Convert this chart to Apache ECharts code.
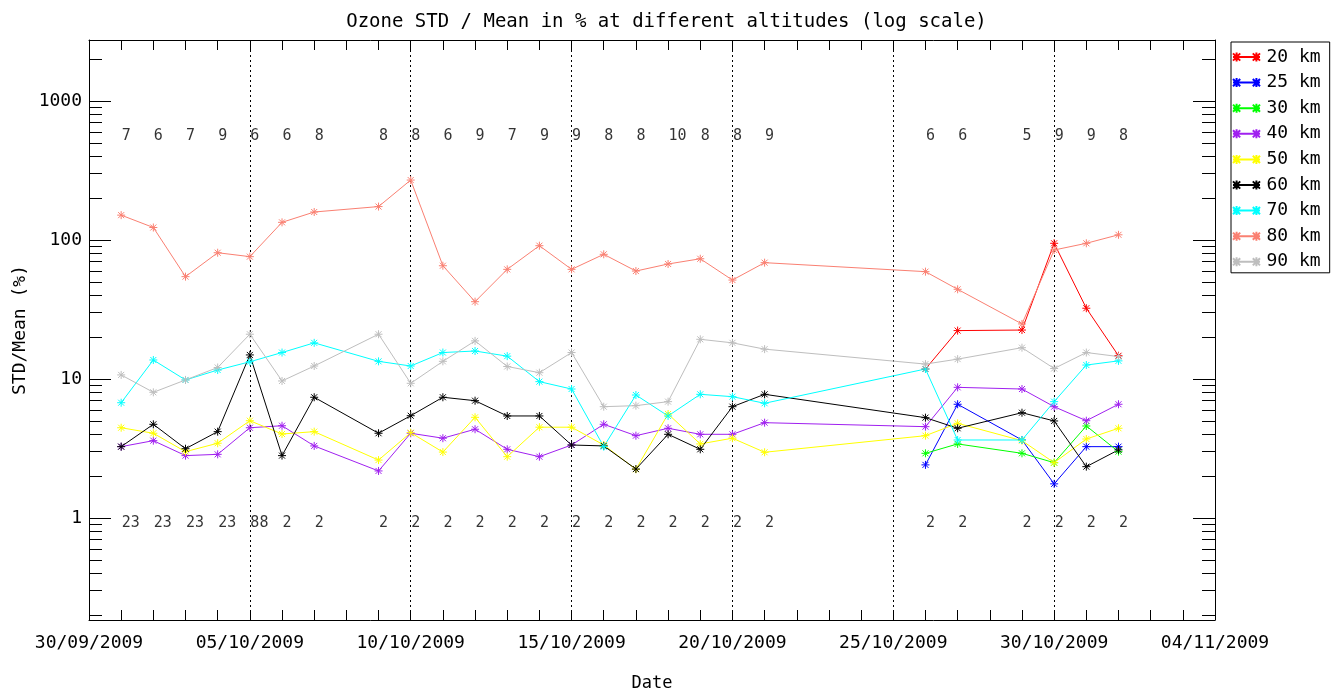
<!DOCTYPE html>
<html>
<head>
<meta charset="utf-8">
<script src="https://cdn.jsdelivr.net/npm/echarts@6/dist/echarts.min.js"></script>
<style>html,body{margin:0;padding:0;background:#fff}#c{width:1333px;height:690px}</style>
</head>
<body>
<div id="c"></div>
<script>
// ---------- data ----------
const dates = ['2009-10-01','2009-10-02','2009-10-03','2009-10-04','2009-10-05','2009-10-06','2009-10-07',
  '2009-10-09','2009-10-10','2009-10-11','2009-10-12','2009-10-13','2009-10-14','2009-10-15','2009-10-16',
  '2009-10-17','2009-10-18','2009-10-19','2009-10-20','2009-10-21','2009-10-26','2009-10-27','2009-10-29',
  '2009-10-30','2009-10-31','2009-11-01'];
const topCounts = [7,6,7,9,6,6,8,8,8,6,9,7,9,9,8,8,10,8,8,9,6,6,5,9,9,8];
const bottomCounts = [23,23,23,23,88,2,2,2,2,2,2,2,2,2,2,2,2,2,2,2,2,2,2,2,2,2];
const altitudes = ['20 km','25 km','30 km','40 km','50 km','60 km','70 km','80 km','90 km'];
const colors = ['#ff0000','#0000ff','#00ff00','#a020f0','#ffff00','#000000','#00ffff','#fa8072','#bebebe'];
const N = null;
const km20 = [N,N,N,N,N,N,N,N,N,N,N,N,N,N,N,N,N,N,N,N,11.8,22.3,22.5,94.7,32.3,14.7];
const km25 = [N,N,N,N,N,N,N,N,N,N,N,N,N,N,N,N,N,N,N,N,2.41,6.58,3.64,1.76,3.26,3.26];
const km30 = [N,N,N,N,N,N,N,N,N,N,N,N,N,N,N,N,N,N,N,N,2.92,3.41,2.92,2.50,4.59,3.00];
const km40 = [3.26,3.60,2.81,2.87,4.46,4.61,3.30,2.18,4.07,3.75,4.35,3.12,2.76,3.35,4.72,3.91,4.42,4.00,4.00,4.85,4.54,8.71,8.47,6.32,5.01,6.58];
const km50 = [4.46,4.07,3.00,3.45,5.01,4.02,4.18,2.61,4.11,2.98,5.30,2.76,4.50,4.50,3.35,2.24,5.60,3.41,3.75,2.97,3.91,4.80,3.60,2.50,3.70,4.42];
const km60 = [3.26,4.72,3.15,4.18,14.9,2.81,7.39,4.07,5.44,7.39,6.98,5.42,5.42,3.35,3.30,2.25,4.00,3.12,6.32,7.76,5.27,4.42,5.72,4.99,2.34,3.09];
const km70 = [6.75,13.7,9.84,11.6,13.3,15.5,18.2,13.4,12.4,15.5,15.9,14.6,9.57,8.47,3.26,7.67,5.42,7.76,7.46,6.69,11.8,3.64,3.64,6.87,12.6,13.5];
const km80 = [151,123,54.5,81.0,75.9,134,159,174,270,65.3,36,61.5,91.0,61.5,78.9,59.8,67.2,73.3,51.5,68.7,59.2,44.2,24.9,84.7,94.7,109];
const km90 = [10.7,8.02,9.84,12.1,21.0,9.68,12.4,21.0,9.31,13.4,18.8,12.3,11.1,15.5,6.32,6.43,6.87,19.3,18.2,16.4,12.8,13.9,16.8,11.9,15.5,14.5];
const seriesValues = [km20,km25,km30,km40,km50,km60,km70,km80,km90];
const startDate = '2009-09-30';
const endDate = '2009-11-04';
const yMin = 0.1845, yMax = 2748;

// ---------- helpers ----------
const DAY = 86400000;
const t0 = Date.parse(startDate + 'T00:00:00Z');
const dayOf = s => (Date.parse(s + 'T00:00:00Z') - t0) / DAY;
const pad = n => (n < 10 ? '0' : '') + n;
const fmtDay = v => { const d = new Date(t0 + v * DAY); return pad(d.getUTCDate()) + '/' + pad(d.getUTCMonth() + 1) + '/' + d.getUTCFullYear(); };
const xMax = dayOf(endDate);
const FONT = 'DejaVu Sans Mono';
const minorLog = [];
for (let e = -1; e <= 3; e++) for (let k = 2; k <= 9; k++) {
  const v = k * Math.pow(10, e);
  if (v > yMin && v < yMax) minorLog.push(Math.log10(v));
}
const ASTER = 'path://M0 4L8 4M4 0L4 8M1 1L7 7M1 7L7 1';
const LEGEND_ICON = 'path://M0 5L30 5M0 1L8 9M0 9L8 1M4 0L4 10M22 1L30 9M22 9L30 1M26 0L26 10';

const lineSeries = altitudes.map((name, i) => ({
  type: 'line', name: name, xAxisIndex: 0, yAxisIndex: 0,
  data: dates.map((d, j) => [dayOf(d), seriesValues[i][j]]).filter(p => p[1] != null),
  symbol: ASTER, symbolSize: 8,
  itemStyle: { color: colors[i], borderColor: colors[i], borderWidth: 1 },
  lineStyle: { color: colors[i], width: 1 },
  silent: true
}));
const textSeries = [
  { counts: topCounts, y: 560 },
  { counts: bottomCounts, y: 0.925 }
].map(t => ({
  type: 'scatter', xAxisIndex: 0, yAxisIndex: 0, silent: true,
  symbolSize: 1, itemStyle: { color: 'rgba(0,0,0,0)' },
  data: dates.map((d, j) => [dayOf(d), t.y, t.counts[j]]),
  label: { show: true, position: 'right', distance: 0, formatter: p => String(p.value[2]),
           fontFamily: FONT, fontSize: 15, color: '#000' }
}));

const chart = echarts.init(document.getElementById('c'), null, { renderer: 'canvas' });
chart.setOption({
  animation: false,
  backgroundColor: '#fff',
  title: { text: 'Ozone STD / Mean in % at different altitudes (log scale)', left: 'center', top: 8,
    textStyle: { fontFamily: FONT, fontSize: 19, fontWeight: 'normal', color: '#000' } },
  legend: {
    data: altitudes, orient: 'vertical', left: 1231, top: 42,
    itemWidth: 30, itemHeight: 9, itemGap: 7.6, padding: [6, 9, 2, 1],
    borderColor: '#000', borderWidth: 1, icon: LEGEND_ICON, selectedMode: false,
    textStyle: { fontFamily: FONT, fontSize: 18, lineHeight: 18, color: '#000' }
  },
  grid: { left: 89, right: 118, top: 40, bottom: 70, show: false, containLabel: false, outerBoundsMode: 'none' },
  xAxis: [
    { type: 'value', min: 0, max: xMax, interval: 1, position: 'bottom',
      axisLine: { show: true, onZero: false, lineStyle: { color: '#000', width: 1 } },
      axisTick: { show: true, inside: true, length: 10, lineStyle: { color: '#000' } },
      axisLabel: { formatter: v => (v % 5 === 0 ? fmtDay(v) : ''), fontFamily: FONT, fontSize: 18, color: '#000', margin: 14 },
      splitLine: { show: false },
      name: 'Date', nameLocation: 'middle', nameGap: 55,
      nameTextStyle: { fontFamily: FONT, fontSize: 17, color: '#000' } },
    { type: 'value', min: 0, max: xMax, interval: 1, position: 'top',
      axisLine: { show: true, onZero: false, lineStyle: { color: '#000', width: 1 } },
      axisTick: { show: true, inside: true, length: 10, lineStyle: { color: '#000' } },
      axisLabel: { show: false }, splitLine: { show: false } },
    { type: 'value', min: 0, max: xMax, interval: 5, position: 'bottom',
      axisLine: { show: false, onZero: false }, axisTick: { show: false }, axisLabel: { show: false },
      splitLine: { show: true, lineStyle: { color: '#000', width: 1, type: [2, 3] } } }
  ],
  yAxis: [
    { type: 'log', logBase: 10, min: yMin, max: yMax, position: 'left',
      axisLine: { show: true, onZero: false, lineStyle: { color: '#000', width: 1 } },
      axisTick: { show: true, inside: true, length: 22, lineStyle: { color: '#000' } },
      axisLabel: { fontFamily: FONT, fontSize: 18, color: '#000', margin: 7, showMinLabel: false, showMaxLabel: false,
                   formatter: v => String(Math.round(v)) },
      splitLine: { show: false } },
    { type: 'value', min: Math.log10(yMin), max: Math.log10(yMax), position: 'left',
      axisLine: { show: false, onZero: false },
      axisTick: { show: true, inside: true, length: 13, customValues: minorLog, lineStyle: { color: '#000' } },
      axisLabel: { show: false }, splitLine: { show: false } },
    { type: 'log', logBase: 10, min: yMin, max: yMax, position: 'right',
      axisLine: { show: true, onZero: false, lineStyle: { color: '#000', width: 1 } },
      axisTick: { show: true, inside: true, length: 22, lineStyle: { color: '#000' } },
      axisLabel: { show: false }, splitLine: { show: false } },
    { type: 'value', min: Math.log10(yMin), max: Math.log10(yMax), position: 'right',
      axisLine: { show: false, onZero: false },
      axisTick: { show: true, inside: true, length: 13, customValues: minorLog, lineStyle: { color: '#000' } },
      axisLabel: { show: false }, splitLine: { show: false } }
  ],
  graphic: [
    { type: 'text', x: 20, y: 330, rotation: Math.PI / 2, silent: true,
      style: { text: 'STD/Mean (%)', font: '18px "DejaVu Sans Mono"', fill: '#000', textAlign: 'center', textVerticalAlign: 'middle' } }
  ],
  series: lineSeries.concat(textSeries)
});
</script>
</body>
</html>
